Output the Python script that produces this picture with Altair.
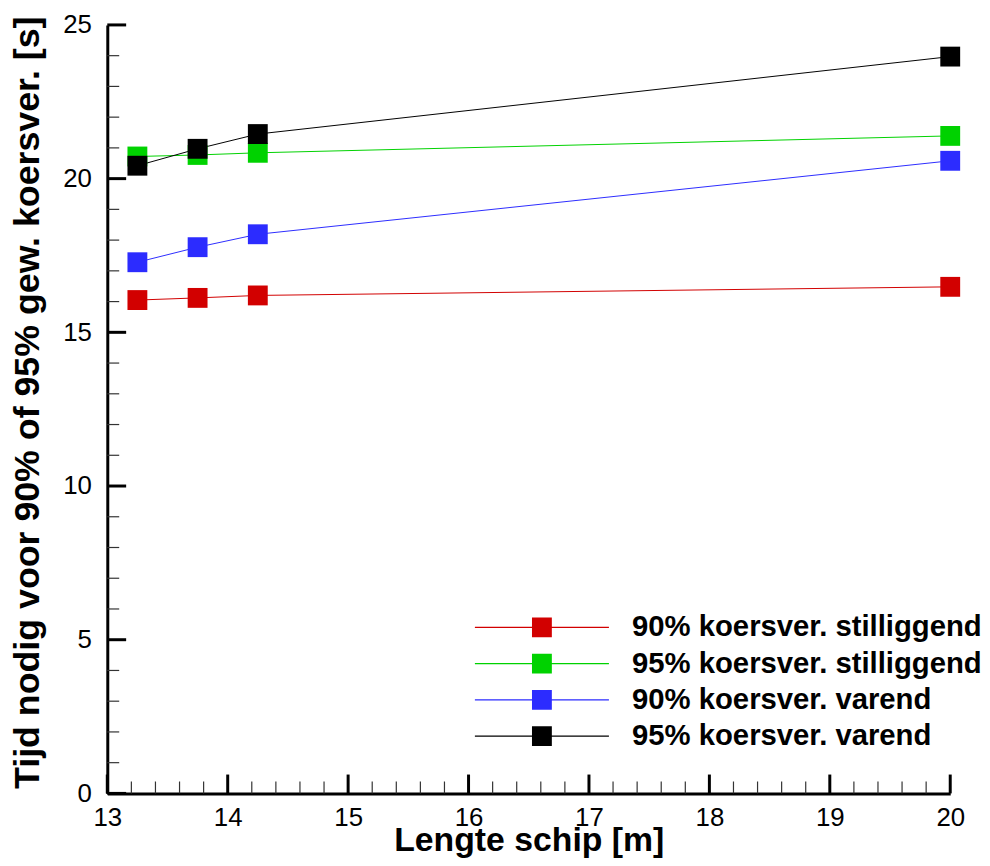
import altair as alt
import pandas as pd

# ---- data ----
lengths = [13.25, 13.75, 14.25, 20.0]
series_names = [
    "90% koersver. stilliggend",
    "95% koersver. stilliggend",
    "90% koersver. varend",
    "95% koersver. varend",
]
t90_still = [16.05, 16.12, 16.20, 16.48]
t95_still = [20.72, 20.77, 20.84, 21.39]
t90_var = [17.28, 17.77, 18.19, 20.58]
t95_var = [20.42, 20.97, 21.45, 23.97]
colors = ["#d20000", "#00d200", "#2c2cff", "#000000"]

x_major = [13, 14, 15, 16, 17, 18, 19, 20]
x_minor = [round(13 + 0.2 * i, 1) for i in range(36) if i % 5 != 0]
y_major = [0, 5, 10, 15, 20, 25]
y_minor = [i for i in range(26) if i % 5 != 0]

rows = []
for name, vals in zip(series_names, [t90_still, t95_still, t90_var, t95_var]):
    for L, v in zip(lengths, vals):
        rows.append({"serie": name, "lengte": L, "tijd": v})
df = pd.DataFrame(rows)

W, H = 849, 774
FONT = "Liberation Sans"

xscale = alt.Scale(domain=[13, 20], nice=False, zero=False)
yscale = alt.Scale(domain=[0, 25], nice=False, zero=True)
cscale = alt.Scale(domain=series_names, range=colors)

x_axis = alt.Axis(
    values=x_major, format="d", ticks=False, grid=False, labelFlush=False,
    domainWidth=3, domainColor="black",
    labelFont=FONT, labelFontSize=26, labelColor="black", labelPadding=11,
    title="Lengte schip [m]", titleFont=FONT, titleFontSize=34,
    titleFontWeight="bold", titleColor="black",
    titleY=58, titleBaseline="alphabetic",
)
y_axis = alt.Axis(
    values=y_major, format="d", ticks=False, grid=False, labelFlush=False,
    domainWidth=3, domainColor="black",
    labelFont=FONT, labelFontSize=26, labelColor="black", labelPadding=16,
    title="Tijd nodig voor 90% of 95% gew. koersver. [s]",
    titleFont=FONT, titleFontSize=36, titleFontWeight="bold", titleColor="black",
    titleX=-80, titleY=380, titleBaseline="middle", titleAngle=-90,
)

legend_symbol = "M-6.75,-0.06H6.75V0.06H-6.75Z M-1,-1H1V1H-1Z"
legend = alt.Legend(
    title=None, orient="none", legendX=423, legendY=592,
    symbolType=legend_symbol, symbolSize=400, symbolStrokeWidth=0,
    symbolOpacity=1,
    labelFont=FONT, labelFontSize=29.5, labelFontWeight="bold", labelColor="black",
    labelOffset=76, labelLimit=600, rowPadding=5.5, padding=0,
)

color_enc = alt.Color("serie:N", scale=cscale, sort=series_names, legend=legend)

base = alt.Chart(df)
points = base.mark_point(shape="square", filled=True, size=400, opacity=1, strokeWidth=0).encode(
    x=alt.X("lengte:Q", scale=xscale, axis=x_axis),
    y=alt.Y("tijd:Q", scale=yscale, axis=y_axis),
    color=color_enc,
)
lines = base.mark_line(strokeWidth=1).encode(
    x=alt.X("lengte:Q", scale=xscale, axis=x_axis),
    y=alt.Y("tijd:Q", scale=yscale, axis=y_axis),
    color=color_enc,
    order=alt.Order("lengte:Q"),
)

xmaj = alt.Chart(pd.DataFrame({"xv": x_major})).mark_rule(strokeWidth=3, color="black").encode(
    x=alt.X("xv:Q", scale=xscale, axis=x_axis), y=alt.value(H), y2=alt.value(H - 19))
xmin = alt.Chart(pd.DataFrame({"xv": x_minor})).mark_rule(strokeWidth=1.2, color="#333").encode(
    x=alt.X("xv:Q", scale=xscale, axis=x_axis), y=alt.value(H), y2=alt.value(H - 12))
ymaj = alt.Chart(pd.DataFrame({"yv": y_major})).mark_rule(strokeWidth=3, color="black").encode(
    y=alt.Y("yv:Q", scale=yscale, axis=y_axis), x=alt.value(0), x2=alt.value(19))
ymin = alt.Chart(pd.DataFrame({"yv": y_minor})).mark_rule(strokeWidth=1.2, color="#333").encode(
    y=alt.Y("yv:Q", scale=yscale, axis=y_axis), x=alt.value(0), x2=alt.value(12))

chart = alt.layer(xmaj, xmin, ymaj, ymin, lines, points).properties(
    width=W, height=H,
    padding={"left": 100, "top": 14, "right": 32, "bottom": 62},
    autosize=alt.AutoSizeParams(type="none"),
    background="white",
).configure_view(stroke=None)

chart.save("out.html", embed_options={"renderer": "svg", "actions": False})
